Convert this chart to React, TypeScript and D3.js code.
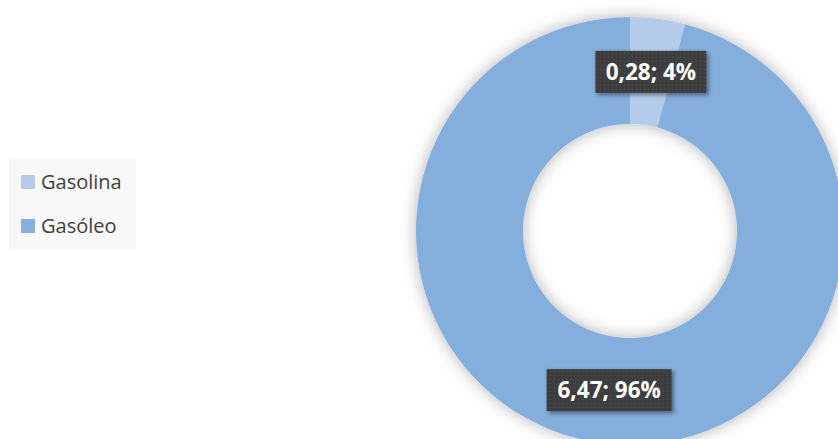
import React from "react";
import * as d3 from "d3";

const categories = ["Gasolina", "Gasóleo"];
const values = [0.28, 6.47];
const labels = ["0,28; 4%", "6,47; 96%"];
const colors = ["#b4cce9", "#84aedb"];

const W = 838;
const H = 439;

export default function App() {
  const cx = 630;
  const cy = 231;
  const rOuter = 214;
  const rInner = 107;
  const pie = d3.pie<number>().sort(null).value((d) => d)(values);
  const arc = d3.arc<d3.PieArcDatum<number>>().innerRadius(rInner).outerRadius(rOuter);
  const labelArc = d3.arc<d3.PieArcDatum<number>>().innerRadius((rInner + rOuter) / 2).outerRadius((rInner + rOuter) / 2);
  const boxW = [111, 125];
  const boxH = 42;
  return (
    <svg width={W} height={H} style={{ position: "absolute", left: 0, top: 0, display: "block" }}>
      <defs>
        <filter id="ringShadow" x="-20%" y="-20%" width="140%" height="140%">
          <feDropShadow dx="0" dy="0" stdDeviation="8" floodColor="#000" floodOpacity="0.3" />
        </filter>
        <filter id="boxShadow" x="-20%" y="-30%" width="150%" height="170%">
          <feDropShadow dx="2" dy="2" stdDeviation="2" floodColor="#000" floodOpacity="0.45" />
        </filter>
        <pattern id="dots" width="4" height="4" patternUnits="userSpaceOnUse">
          <rect width="4" height="4" fill="#3d3d3d" />
          <rect x="1" y="1" width="1" height="1" fill="#585858" />
        </pattern>
      </defs>
      <rect x={0} y={0} width={W} height={H} fill="#ffffff" />
      {/* legend */}
      <rect x={9} y={159} width={127} height={90} fill="#f8f8f8" />
      {categories.map((c, i) => (
        <g key={c} transform={`translate(21, ${175 + i * 44})`}>
          <rect width={14} height={14} fill={colors[i]} />
          <text x={20} y={14} fontFamily="'Open Sans', sans-serif" fontSize={20} fill="#404040">
            {c}
          </text>
        </g>
      ))}
      {/* donut */}
      <g transform={`translate(${cx}, ${cy})`}>
        <g filter="url(#ringShadow)">
          {pie.map((p, i) => (
            <path key={i} d={arc(p) || ""} fill={colors[i]} />
          ))}
        </g>
        {pie.map((p, i) => {
          const [lx, ly] = labelArc.centroid(p);
          return (
            <g key={"l" + i} transform={`translate(${lx}, ${ly})`}>
              <rect
                x={-boxW[i] / 2}
                y={-boxH / 2}
                width={boxW[i]}
                height={boxH}
                fill="url(#dots)"
                filter="url(#boxShadow)"
              />
              <text
                x={0}
                y={0}
                dy="0.36em"
                textAnchor="middle"
                fontFamily="'Open Sans', sans-serif"
                fontWeight="bold"
                fontSize={22.5}
                fill="#ffffff"
              >
                {labels[i]}
              </text>
            </g>
          );
        })}
      </g>
    </svg>
  );
}
